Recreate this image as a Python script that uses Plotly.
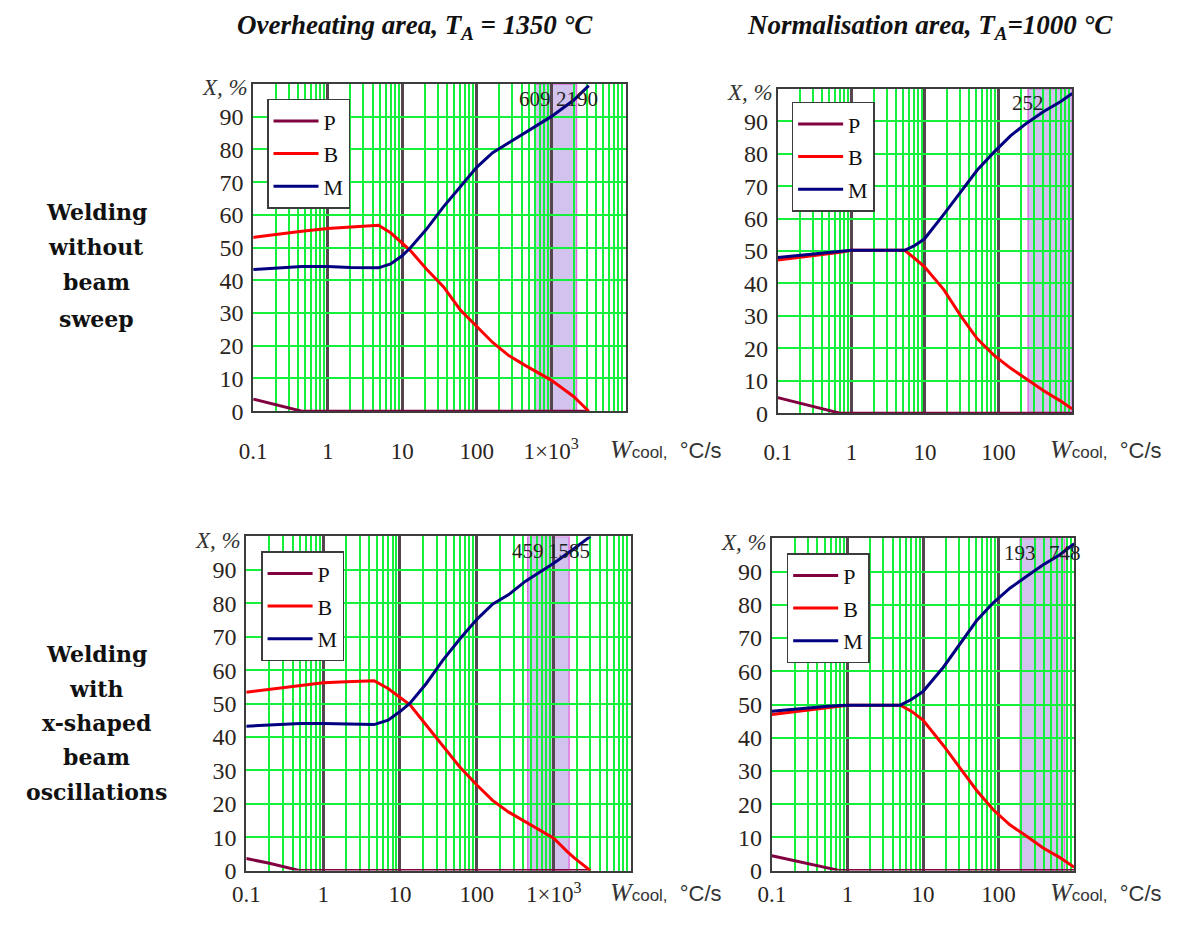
import math
import plotly.graph_objects as go

# page is 1180x937; the html body has an 8px margin, so the figure is drawn 16px smaller
W, H = 1162, 919
OFF = 8

# ---------------- text ----------------
col_titles = ["Overheating area, T<sub>A</sub> = 1350 °C",
              "Normalisation area, T<sub>A</sub>=1000 °C"]
row_titles = [["Welding", "without", "beam", "sweep"],
              ["Welding", "with", "x-shaped", "beam", "oscillations"]]
phase_names = ["P", "B", "M"]
phase_colors = ["#800040", "#ff0000", "#000080"]

# ---------------- data ----------------
# Panel 1: overheating area, no beam sweep
x1 = [0.1, 0.2, 0.45, 1, 2, 4.8, 7, 10, 13, 21, 36, 60, 100, 164, 270, 447, 1000, 2000, 3200]
p1 = [3.7, 2.1, 0, 0, 0, 0, 0, 0, 0, 0, 0, 0, 0, 0, 0, 0, 0, 0, 0]
b1 = [53.1, 54.0, 55.0, 55.8, 56.2, 56.8, 54.5, 51.2, 49.0, 43.5, 38.0, 31.0, 26.0, 21.0, 17.0, 14.0, 9.5, 4.5, 0]
m1 = [43.3, 43.8, 44.2, 44.2, 43.9, 43.8, 45.0, 47.5, 50.0, 55.5, 62.5, 68.5, 74.5, 79.0, 82.0, 85.0, 90.0, 95.0, 99.5]
shade1 = [609, 2190]
marks1 = [609, 2190]

# Panel 2: normalisation area, no beam sweep
x2 = [0.1, 0.2, 0.48, 0.7, 1, 2, 5.3, 7, 9.8, 18, 30.6, 51, 86, 145, 243, 410, 690, 1000]
p2 = [4.8, 3.1, 0.9, 0, 0, 0, 0, 0, 0, 0, 0, 0, 0, 0, 0, 0, 0, 0]
b2 = [47.2, 48.0, 49.0, 49.6, 50.2, 50.2, 50.2, 48.0, 45.2, 38.1, 30.0, 23.0, 17.9, 13.9, 10.4, 6.9, 3.8, 1.3]
m2 = [48.0, 48.6, 49.4, 49.8, 50.2, 50.2, 50.2, 51.5, 53.7, 61.3, 68.3, 74.9, 80.4, 85.5, 89.5, 93.0, 96.0, 98.6]
shade2 = [252, 1000]
marks2 = [252]

# Panel 3: overheating area, x-shaped beam oscillations
x3 = [0.1, 0.2, 0.5, 1, 2, 4.6, 7, 10, 13.5, 22, 36, 60, 100, 160, 260, 430, 1000, 1500, 1850, 3000]
p3 = [3.6, 2.2, 0, 0, 0, 0, 0, 0, 0, 0, 0, 0, 0, 0, 0, 0, 0, 0, 0, 0]
b3 = [53.4, 54.3, 55.3, 56.2, 56.5, 56.8, 54.5, 51.9, 49.6, 43.5, 37.3, 31.0, 25.6, 21.0, 17.5, 14.6, 9.7, 5.7, 3.8, 0]
m3 = [43.2, 43.6, 44.0, 44.0, 43.8, 43.7, 45.0, 47.6, 50.1, 56.0, 62.9, 69.3, 75.2, 79.7, 82.6, 86.6, 92.0, 94.8, 96.4, 100]
shade3 = [459, 1585]
marks3 = [459, 1585]

# Panel 4: normalisation area, x-shaped beam oscillations
x4 = [0.1, 0.2, 0.55, 0.8, 1, 2, 5, 7, 10, 18.7, 31, 51, 85, 141, 233, 385, 640, 1000]
p4 = [4.5, 3.0, 0.8, 0, 0, 0, 0, 0, 0, 0, 0, 0, 0, 0, 0, 0, 0, 0]
b4 = [47.0, 47.8, 49.0, 49.5, 49.8, 49.8, 49.8, 48.0, 45.3, 37.6, 30.7, 24.2, 18.3, 13.8, 10.4, 6.9, 4.0, 1.0]
m4 = [48.0, 48.7, 49.5, 49.7, 49.8, 49.8, 49.8, 51.5, 53.9, 61.3, 68.3, 75.2, 80.6, 85.0, 88.5, 92.0, 95.0, 98.4]
shade4 = [193, 748]
marks4 = [193, 748]

x_ticks_a = [0.1, 1, 10, 100, 1000]
x_text_a = ["0.1", "1", "10", "100", "1×10<sup>3</sup>"]
x_ticks_b = [0.1, 1, 10, 100]
x_text_b = ["0.1", "1", "10", "100"]
y_ticks = [0, 10, 20, 30, 40, 50, 60, 70, 80, 90]

SERIF = "Times New Roman, Liberation Serif, serif"
SANS = "Arial, Liberation Sans, sans-serif"
x_label = ("<span style='font-family:Liberation Serif;font-size:26px'><i>W</i></span>"
           "<span style='font-size:17px'>cool,</span>  °C/s")
y_label = "<i>X, %</i>"

# ---------------- layout geometry (page pixels) ----------------
panels = [
    dict(x=x1, series=[p1, b1, m1], shade=shade1, marks=marks1, rng=[-1, 4],
         ticks=x_ticks_a, text=x_text_a, box=(242, 85, 619, 417), ticklen=18, leg=(256, 100), xl=(601, 456)),
    dict(x=x2, series=[p2, b2, m2], shade=shade2, marks=marks2, rng=[-1, 3],
         ticks=x_ticks_b, text=x_text_b, box=(773, 90, 1071, 419), ticklen=17, leg=(787, 103), xl=(1047, 456)),
    dict(x=x3, series=[p3, b3, m3], shade=shade3, marks=marks3, rng=[-1, 4],
         ticks=x_ticks_a, text=x_text_a, box=(235, 544, 624, 883), ticklen=2, leg=(250, 559), xl=(601, 905)),
    dict(x=x4, series=[p4, b4, m4], shade=shade4, marks=marks4, rng=[-1, 3],
         ticks=x_ticks_b, text=x_text_b, box=(767, 546, 1073, 883), ticklen=2, leg=(782, 561), xl=(1047, 905)),
]

GREEN = "#14f03c"
DECADE = "#55464e"
FRAME = "#3c3c3c"
TXT = "#2a2420"


def fx(px):
    return (px - OFF) / W


def fy(py):
    return 1 - (py - OFF) / H


fig = go.Figure()
layout = dict(width=W, height=H, margin=dict(l=0, r=0, t=0, b=0),
              paper_bgcolor="white", plot_bgcolor="white", showlegend=True)
shapes = []
annotations = []

for i, pn in enumerate(panels):
    n = "" if i == 0 else str(i + 1)
    xa, ya = "x" + n, "y" + n
    legname = "legend" if i == 0 else "legend" + str(i + 1)
    for name, color, vals in zip(phase_names, phase_colors, pn["series"]):
        fig.add_trace(go.Scatter(
            x=pn["x"], y=vals, mode="lines", name=name,
            line=dict(color=color, width=3),
            xaxis=xa, yaxis=ya, legend=legname,
            legendgroup=f"{name}{i}", showlegend=True))
    x0, y0, x1p, y1p = pn["box"]
    layout["xaxis" + n] = dict(
        type="log", range=pn["rng"], domain=[fx(x0), fx(x1p)], anchor=ya,
        tickmode="array", tickvals=pn["ticks"], ticktext=pn["text"],
        ticks="outside", ticklen=pn["ticklen"], tickcolor="rgba(0,0,0,0)",
        tickfont=dict(family=SERIF, size=23, color=TXT),
        showgrid=True, gridcolor=DECADE, gridwidth=2.5,
        minor=dict(dtick="D1", showgrid=True, gridcolor=GREEN, gridwidth=2),
        showline=True, linecolor=FRAME, linewidth=2, mirror=True,
        zeroline=False, fixedrange=True)
    layout["yaxis" + n] = dict(
        range=[0, 100], domain=[fy(y1p), fy(y0)], anchor=xa,
        tickmode="array", tickvals=y_ticks,
        ticks="outside", ticklen=3, tickcolor="rgba(0,0,0,0)",
        tickfont=dict(family=SERIF, size=24, color=TXT),
        showgrid=True, gridcolor=GREEN, gridwidth=2,
        showline=True, linecolor=FRAME, linewidth=2, mirror=True,
        zeroline=False, fixedrange=True)
    lx, ly = pn["leg"]
    layout[legname] = dict(
        x=fx(lx), y=fy(ly), xanchor="left", yanchor="top",
        bgcolor="white", bordercolor=FRAME, borderwidth=1.5,
        font=dict(family=SERIF, size=22, color="#111"),
        tracegroupgap=1, itemwidth=45)
    shapes.append(dict(type="rect", xref=xa, yref=ya,
                       x0=pn["shade"][0], x1=pn["shade"][1], y0=0, y1=100,
                       fillcolor="#d2c2ee", line=dict(color="#e070e0", width=1.5),
                       layer="below"))
    for mv in pn["marks"]:
        annotations.append(dict(x=math.log10(mv), y=95.5, xref=xa, yref=ya, text=str(mv),
                                showarrow=False, xanchor="center", yanchor="middle",
                                font=dict(family=SERIF, size=21, color="#222")))
    annotations.append(dict(x=fx(x0 - 3), y=fy(y0 + 4), xref="paper", yref="paper",
                            text=y_label, showarrow=False, xanchor="right", yanchor="middle",
                            font=dict(family=SERIF, size=23, color="#333")))
    xlx, xly = pn["xl"]
    annotations.append(dict(x=fx(xlx), y=fy(xly), xref="paper", yref="paper",
                            text=x_label, showarrow=False, xanchor="left", yanchor="middle",
                            font=dict(family=SANS, size=22, color="#333")))

# column headers
for txt, cx in zip(col_titles, [406, 927]):
    annotations.append(dict(x=fx(cx), y=fy(27), xref="paper", yref="paper",
                            text=f"<b><i>{txt}</i></b>", showarrow=False,
                            xanchor="center", yanchor="middle",
                            font=dict(family=SERIF, size=27, color="#111")))

# row labels (one annotation per line)
row_line_y = [[215, 250, 286, 323], [663, 699, 733, 768, 803]]
for lines, ys in zip(row_titles, row_line_y):
    for t, yy in zip(lines, ys):
        annotations.append(dict(x=fx(83), y=fy(yy), xref="paper", yref="paper",
                                text=f"<b>{t}</b>", showarrow=False,
                                xanchor="center", yanchor="middle",
                                font=dict(family="DejaVu Serif", size=22, color="#111")))

layout["shapes"] = shapes
layout["annotations"] = annotations
fig.update_layout(**layout)
fig.write_html("out.html")
